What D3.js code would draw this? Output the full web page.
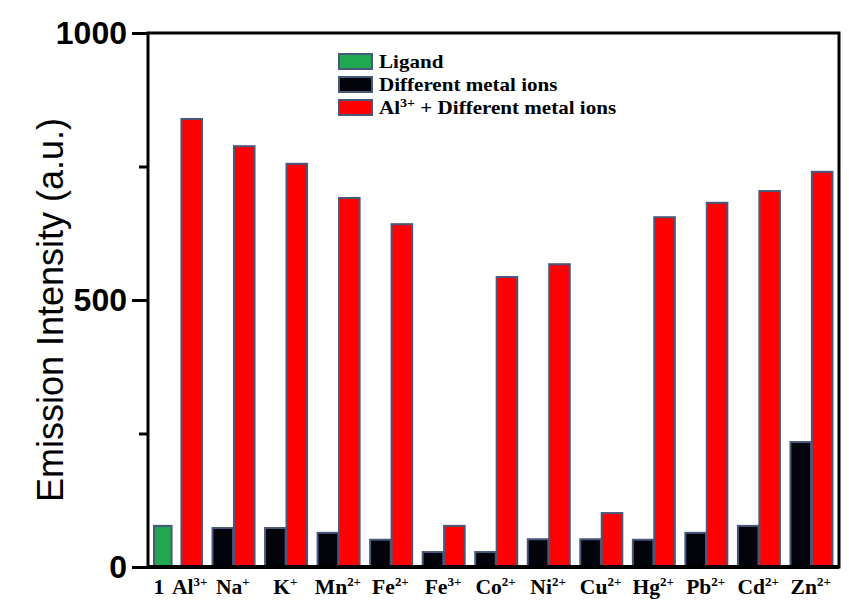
<!DOCTYPE html>
<html>
<head>
<meta charset="utf-8">
<script src="https://cdn.jsdelivr.net/npm/d3@7"></script>
<style>
  body { margin: 0; background: #fff; }
  svg { display: block; }
</style>
</head>
<body>
<div id="chart"></div>
<script>
// groups along the x axis (first group holds the ligand bar and Al3+ alone)
const groups = ["Al3+", "Na+", "K+", "Mn2+", "Fe2+", "Fe3+", "Co2+", "Ni2+", "Cu2+", "Hg2+", "Pb2+", "Cd2+", "Zn2+"];
const ligandValue = 77;
const metalValues = [null, 73, 73, 64, 51, 28, 28, 52, 52, 51, 64, 77, 234];
const mixedValues = [839, 788, 755, 691, 642, 77, 543, 567, 101, 655, 682, 704, 740];

// tick labels (base text + superscript)
const tickBase = ["1", "Al", "Na", "K", "Mn", "Fe", "Fe", "Co", "Ni", "Cu", "Hg", "Pb", "Cd", "Zn"];
const tickSup = ["", "3+", "+", "+", "2+", "2+", "3+", "2+", "2+", "2+", "2+", "2+", "2+", "2+"];

const yTicks = [0, 500, 1000];
const yMinorTicks = [250, 750];

const legendNames = ["Ligand", "Different metal ions", "Al3+ + Different metal ions"];
const legendColors = ["#1fa84f", "#03030c", "#ff0000"];

const width = 849;
const height = 600;
const marginTop = 33;
const marginRight = 10;
const marginBottom = 33;
const marginLeft = 148;

const svg = d3.select("#chart")
    .append("svg")
    .attr("width", width)
    .attr("height", height);

// x scales
const x = d3.scaleBand()
    .domain(d3.range(groups.length))
    .range([156, width - marginRight]);

const xSub = d3.scaleBand()
    .domain(["metal", "mixed"])
    .range([4, 46])
    .paddingInner(0.04);

// y scale
const y = d3.scaleLinear()
    .domain([0, 1000])
    .range([height - marginBottom, marginTop]);

const barStroke = "#475879";
const ligandShift = -6;

// bars: ligand in first slot, then metal-only and Al3+ + metal
const bars = [];
bars.push({ g: 0, slot: "metal", v: ligandValue, c: legendColors[0], dx: ligandShift, w: -3 });
groups.forEach((name, i) => {
    if (metalValues[i] != null) bars.push({ g: i, slot: "metal", v: metalValues[i], c: legendColors[1], dx: 0, w: 0 });
    bars.push({ g: i, slot: "mixed", v: mixedValues[i], c: legendColors[2], dx: 0, w: 0 });
});

svg.append("g")
    .selectAll("rect")
    .data(bars)
    .join("rect")
    .attr("x", d => x(d.g) + xSub(d.slot) + d.dx)
    .attr("y", d => y(d.v))
    .attr("width", d => xSub.bandwidth() + d.w)
    .attr("height", d => y(0) - y(d.v) - 1)
    .attr("fill", d => d.c)
    .attr("stroke", barStroke)
    .attr("stroke-width", 2);

// frame
svg.append("rect")
    .attr("x", marginLeft)
    .attr("y", marginTop)
    .attr("width", width - marginRight - marginLeft)
    .attr("height", height - marginBottom - marginTop)
    .attr("fill", "none")
    .attr("stroke", "#000")
    .attr("stroke-width", 3);

svg.append("line")
    .attr("x1", marginLeft)
    .attr("x2", width - marginRight)
    .attr("y1", y(0))
    .attr("y2", y(0))
    .attr("stroke", "#000")
    .attr("stroke-width", 4);

// y axis, major and minor ticks
svg.append("g")
    .attr("transform", `translate(${marginLeft},0)`)
    .call(d3.axisLeft(y).tickValues(yTicks).tickSize(16).tickPadding(5).tickFormat(d3.format("d")))
    .call(g => g.select(".domain").remove())
    .call(g => g.selectAll(".tick line").attr("stroke-width", 3))
    .selectAll(".tick text")
    .style("font-family", "'Liberation Sans', Arial, sans-serif")
    .style("font-weight", "bold")
    .style("font-size", "32px")
    .attr("fill", "#000");

svg.append("g")
    .attr("transform", `translate(${marginLeft},0)`)
    .call(d3.axisLeft(y).tickValues(yMinorTicks).tickSize(9).tickFormat(""))
    .call(g => g.select(".domain").remove())
    .call(g => g.selectAll(".tick line").attr("stroke-width", 3));

// y axis title
svg.append("text")
    .attr("transform", `translate(63,${310}) rotate(-90)`)
    .attr("text-anchor", "middle")
    .style("font-family", "'Liberation Sans', Arial, sans-serif")
    .style("font-size", "36px")
    .text("Emission Intensity (a.u.)");

// x tick labels
const tickX = tickBase.map((t, i) => {
    if (i === 0) return x(0) + xSub("metal") + ligandShift + (xSub.bandwidth() - 3) / 2 - 4;
    if (i === 1) return x(0) + xSub("mixed") + xSub.bandwidth() / 2 - 2;
    return x(i - 1) + x.bandwidth() / 2 - 2;
});

const xLabels = svg.append("g")
    .style("font-family", "'Liberation Serif', 'Times New Roman', serif")
    .style("font-weight", "bold")
    .selectAll("text")
    .data(tickBase)
    .join("text")
    .attr("transform", (d, i) => `translate(${tickX[i]},594) scale(1.08,1)`)
    .attr("text-anchor", "middle")
    .style("font-size", "20px");

xLabels.append("tspan").text(d => d);
xLabels.append("tspan")
    .attr("dy", -8)
    .style("font-size", "12px")
    .text((d, i) => tickSup[i]);

// legend
const legend = svg.append("g")
    .attr("transform", "translate(339,54)");

legendNames.forEach((name, i) => {
    const row = legend.append("g").attr("transform", `translate(0,${i * 23})`);
    row.append("rect")
        .attr("width", 33)
        .attr("height", 15)
        .attr("fill", legendColors[i])
        .attr("stroke", barStroke)
        .attr("stroke-width", 2);
    const t = row.append("text")
        .attr("transform", "translate(40,14) scale(1.17,1)")
        .style("font-family", "'Liberation Serif', 'Times New Roman', serif")
        .style("font-weight", "bold")
        .style("font-size", "18px");
    if (name.startsWith("Al3+")) {
        t.append("tspan").text("Al");
        t.append("tspan").attr("dy", -7).style("font-size", "12px").text("3+");
        t.append("tspan").attr("dy", 7).text(" + Different metal ions");
    } else {
        t.text(name);
    }
});
</script>
</body>
</html>
